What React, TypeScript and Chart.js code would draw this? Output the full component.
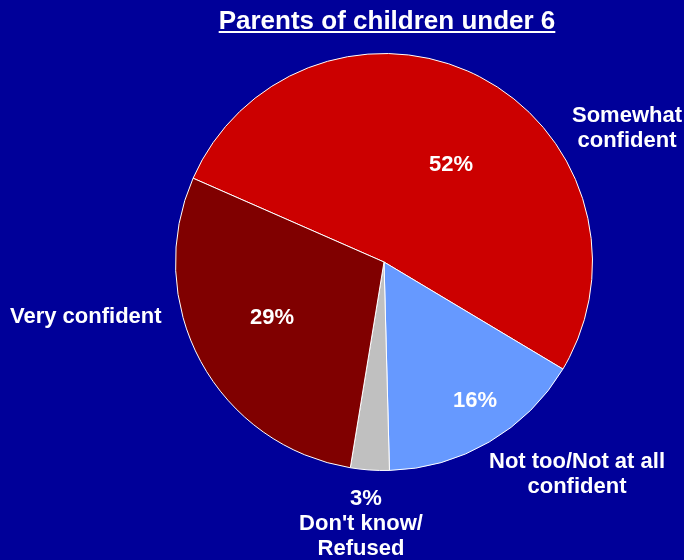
import React, { useEffect, useRef } from "react";
import { Chart, registerables } from "chart.js";

Chart.register(...registerables);

const title = "Parents of children under 6";
const categories = ["Somewhat confident", "Not too/Not at all confident", "Don't know/Refused", "Very confident"];
const values = [52, 16, 3, 29];
const colors = ["#CC0000", "#6699FF", "#C0C0C0", "#800000"];

// annotation layout: [lines, centerX / leftX, baselineY, align]
const categoryLabelLines: string[][] = [
  ["Somewhat", "confident"],
  ["Not too/Not at all", "confident"],
  ["Don't know/", "Refused"],
  ["Very confident"],
];
const categoryLabelPos = [
  { x: 627, y: 122, align: "center" },
  { x: 577, y: 468, align: "center" },
  { x: 361, y: 530, align: "center" },
  { x: 10, y: 323, align: "left" },
];
const percentPos = [
  { x: 451, y: 171 },
  { x: 475, y: 407 },
  { x: 366, y: 505 },
  { x: 272, y: 324 },
];

const FONT = '"Liberation Sans", Arial, Helvetica, sans-serif';

const labelPlugin = {
  id: "labels",
  afterDraw(chart: any) {
    const ctx = chart.ctx;
    ctx.save();
    ctx.fillStyle = "#FFFFFF";
    // title
    ctx.font = `bold 26px ${FONT}`;
    ctx.textAlign = "center";
    ctx.textBaseline = "alphabetic";
    const tx = 387;
    const ty = 29;
    ctx.fillText(title, tx, ty);
    const tw = ctx.measureText(title).width;
    ctx.fillRect(tx - tw / 2, 31, tw, 2);

    ctx.font = `bold 22px ${FONT}`;
    values.forEach((v, i) => {
      ctx.textAlign = "center";
      ctx.fillText(`${v}%`, percentPos[i].x, percentPos[i].y);
      const p = categoryLabelPos[i];
      ctx.textAlign = p.align;
      categoryLabelLines[i].forEach((line, j) => {
        ctx.fillText(line, p.x, p.y + j * 25);
      });
    });
    ctx.restore();
  },
};

export default function App() {
  const ref = useRef<HTMLCanvasElement>(null);
  useEffect(() => {
    if (!ref.current) return;
    const chart = new Chart(ref.current, {
      type: "pie",
      data: {
        labels: categories,
        datasets: [
          {
            data: values,
            backgroundColor: colors,
            borderColor: "#FFFFFF",
            borderWidth: 1,
          },
        ],
      },
      options: {
        responsive: false,
        animation: false,
        rotation: -66.3,
        layout: { padding: { top: 53, bottom: 89, left: 175, right: 91 } },
        plugins: {
          legend: { display: false },
          tooltip: { enabled: false },
          title: { display: false },
        },
      },
      plugins: [labelPlugin],
    });
    return () => chart.destroy();
  }, []);
  return (
    <div
      style={{
        position: "fixed",
        left: 0,
        top: 0,
        width: 684,
        height: 560,
        background: "#000099",
      }}
    >
      <canvas ref={ref} width={684} height={560} style={{ display: "block" }} />
    </div>
  );
}
